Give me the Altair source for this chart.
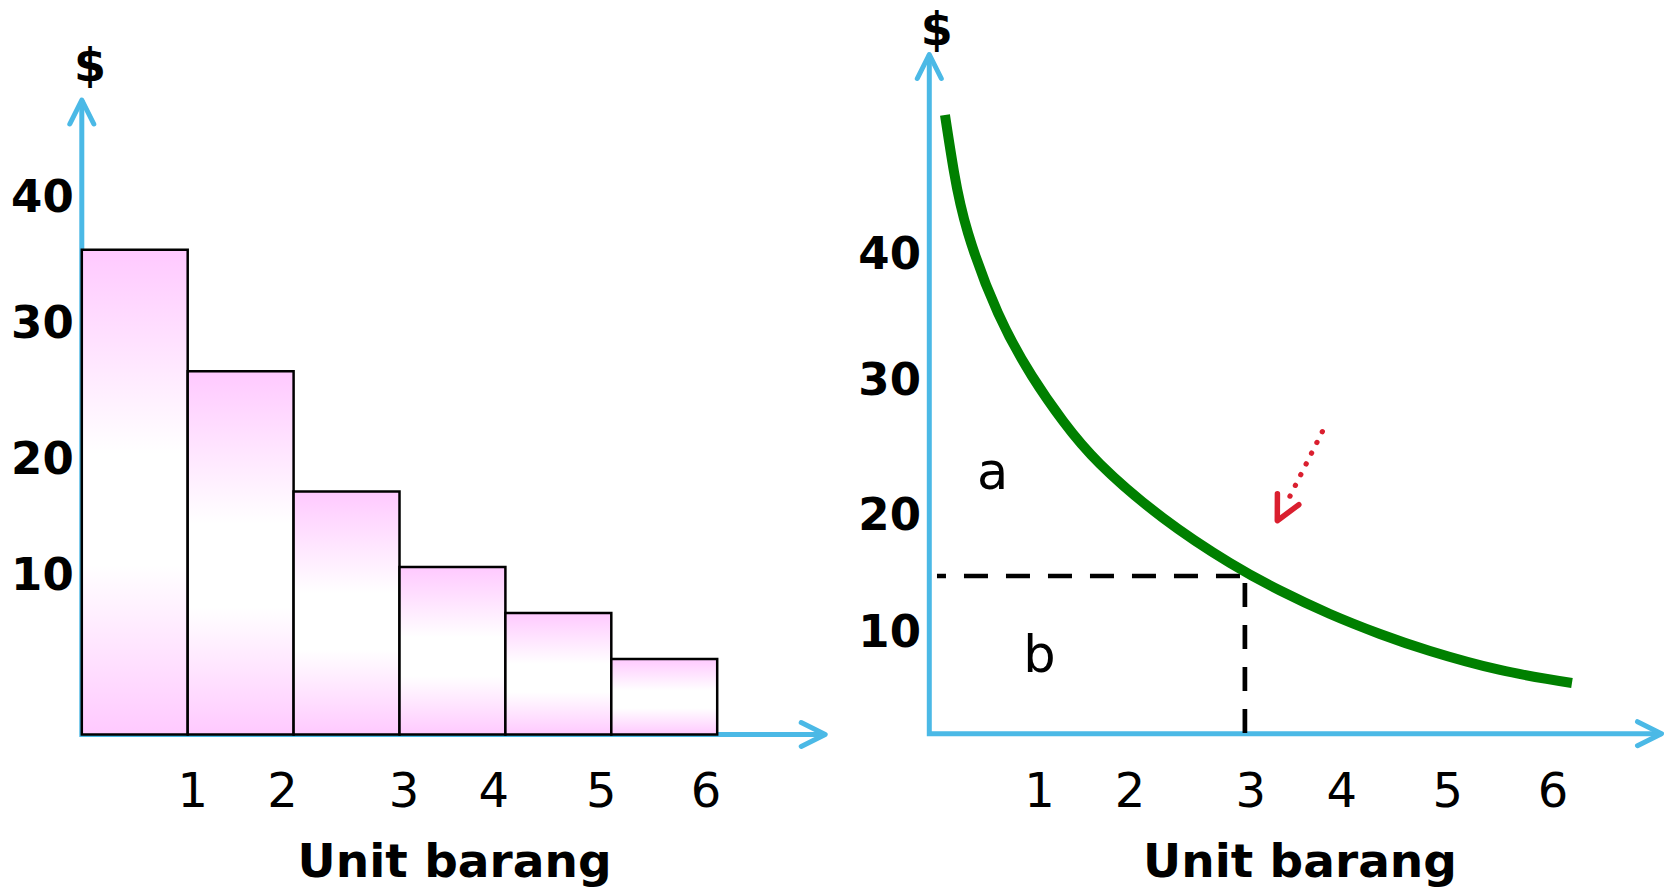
import altair as alt
import pandas as pd

# ------------------------------------------------------------------ data
units = [1, 2, 3, 4, 5, 6]
tick_labels = ["1", "2", "3", "4", "5", "6"]
left_values = [35.9, 26.9, 18.0, 12.4, 9.0, 5.6]          # $ per unit (bars)
left_tick_pos = [1.047, 1.896, 3.043, 3.890, 4.906, 5.894]
right_tick_pos = [1.047, 1.908, 3.055, 3.920, 4.929, 5.929]
y_labels = ["10", "20", "30", "40"]
left_ylabel_pos = [10.7, 19.3, 29.4, 38.67]
right_ylabel_pos = [7.25, 16.98, 28.2, 38.7]

curve_x = [0.149, 0.235, 0.368, 0.653, 0.976, 1.271, 1.623, 2.222,
           2.859, 3.334, 3.809, 4.284, 4.760, 5.425, 6.109]
curve_y = [51.56, 46.81, 41.73, 35.06, 29.81, 26.06, 22.48, 17.98,
           14.23, 11.93, 9.975, 8.31, 6.89, 5.31, 4.225]

left_axis_end = [7.02, 47.0]     # x end, y end
right_axis_end = [6.96, 56.6]
price_level = 13.14
quantity_level = 3
dash_start_x = 0.073
pointer_x = [3.736, 3.378]
pointer_y = [25.17, 18.91]
pointer_tip = [3.308, 17.75]
area_labels = ["a", "b"]
area_x = [0.603, 1.048]
area_y = [20.39, 5.14]
title_x = "Unit barang"
title_y = "$"
left_title_pos = [3.52, -10.53]
right_title_pos = [3.524, -11.92]
left_dollar_pos = [0.077, 48.42]
right_dollar_pos = [0.070, 57.40]
left_tick_y = -5.35
right_tick_y = -6.08
left_ylabel_x = -0.0765
right_ylabel_x = -0.079

# ------------------------------------------------------------------ style
W, H = 1656, 880
BLUE = "#4BB9E6"
GREEN = "#008000"
RED = "#DA1F2F"
PINK = "#FFC9FF"
FONT = "DejaVu Sans"
CHEVRON = "M-0.5,1L0,0L0.5,1"

LX = alt.Scale(domain=[0, 7], range=[73.8, 815.1], nice=False, zero=False)
LY = alt.Scale(domain=[0, 50], range=[726.5, 51.5], nice=False, zero=False)
RX = alt.Scale(domain=[0, 7], range=[921.3, 1657.7], nice=False, zero=False)
RY = alt.Scale(domain=[0, 50], range=[725.7, 125.7], nice=False, zero=False)


def X(field, sc):
    return alt.X(field, type="quantitative", scale=sc, axis=None, title=None)


def Y(field, sc):
    return alt.Y(field, type="quantitative", scale=sc, axis=None, title=None)


def panel_axes(end, sx, sy):
    df = pd.DataFrame({"x": [0, 0, end[0]], "y": [end[1], 0, 0], "i": [0, 1, 2]})
    shafts = alt.Chart(df).mark_line(
        color=BLUE, strokeWidth=5, strokeCap="butt", strokeJoin="miter"
    ).encode(x=X("x", sx), y=Y("y", sy), order=alt.Order("i:Q"))
    tips = pd.DataFrame({"x": [end[0], 0], "y": [0, end[1]], "angle": [90, 0]})
    heads = alt.Chart(tips).mark_point(
        shape=CHEVRON, size=2304, filled=False, stroke=BLUE, strokeWidth=5,
        strokeCap="round", strokeJoin="round", opacity=1
    ).encode(x=X("x", sx), y=Y("y", sy), angle=alt.Angle("angle:Q", scale=None))
    return [shafts, heads]


def panel_texts(sx, sy, tick_pos, tick_y, ylab_pos, ylab_x, title_pos, dollar_pos):
    ticks = alt.Chart(pd.DataFrame({"x": tick_pos, "y": [tick_y] * 6, "t": tick_labels})).mark_text(
        font=FONT, fontSize=48, align="center", baseline="alphabetic", color="black"
    ).encode(x=X("x", sx), y=Y("y", sy), text="t:N")
    ylabs = alt.Chart(pd.DataFrame({"x": [ylab_x] * 4, "y": ylab_pos, "t": y_labels})).mark_text(
        font=FONT, fontSize=45, fontWeight="bold", align="right", baseline="alphabetic", color="black"
    ).encode(x=X("x", sx), y=Y("y", sy), text="t:N")
    titles = alt.Chart(pd.DataFrame({
        "x": [title_pos[0], dollar_pos[0]], "y": [title_pos[1], dollar_pos[1]],
        "t": [title_x, title_y], "s": [47, 46]})).mark_text(
        font=FONT, fontWeight="bold", align="center", baseline="alphabetic", color="black"
    ).encode(x=X("x", sx), y=Y("y", sy), text="t:N", size=alt.Size("s:Q", scale=None))
    return [ticks, ylabs, titles]


# ------------------------------------------------------------------ left panel
grad = alt.Gradient(
    gradient="linear",
    stops=[alt.GradientStop(color=PINK, offset=0),
           alt.GradientStop(color="#FFFFFF", offset=0.42),
           alt.GradientStop(color="#FFFFFF", offset=0.65),
           alt.GradientStop(color=PINK, offset=1)],
    x1=0, x2=0, y1=0, y2=1,
)
bars = alt.Chart(pd.DataFrame({"unit": units, "value": left_values})).transform_calculate(
    x0="datum.unit - 1"
).mark_rect(fill=grad, stroke="black", strokeWidth=2.5).encode(
    x=X("x0", LX), x2="unit:Q", y=Y("value", LY), y2=alt.datum(0)
)

left = alt.layer(
    *panel_axes(left_axis_end, LX, LY),
    bars,
    *panel_texts(LX, LY, left_tick_pos, left_tick_y, left_ylabel_pos, left_ylabel_x,
                 left_title_pos, left_dollar_pos),
)

# ------------------------------------------------------------------ right panel
curve = alt.Chart(pd.DataFrame({"x": curve_x, "y": curve_y})).mark_line(
    color=GREEN, strokeWidth=10, interpolate="natural", strokeCap="butt"
).encode(x=X("x", RX), y=Y("y", RY))

hdash = alt.Chart(pd.DataFrame({"x": [dash_start_x], "x2": [quantity_level], "y": [price_level]})).mark_rule(
    color="black", strokeWidth=4.7, strokeDash=[24, 18], strokeDashOffset=15, strokeCap="butt"
).encode(x=X("x", RX), x2="x2:Q", y=Y("y", RY))

vdash = alt.Chart(pd.DataFrame({"x": [quantity_level], "y": [price_level], "y2": [0]})).mark_rule(
    color="black", strokeWidth=4.7, strokeDash=[24, 18], strokeDashOffset=35, strokeCap="butt"
).encode(x=X("x", RX), y=Y("y", RY), y2="y2:Q")

pointer = alt.Chart(pd.DataFrame({"x": [pointer_x[0]], "x2": [pointer_x[1]],
                                  "y": [pointer_y[0]], "y2": [pointer_y[1]]})).mark_rule(
    color=RED, strokeWidth=5.3, strokeDash=[0.01, 12], strokeCap="round"
).encode(x=X("x", RX), x2="x2:Q", y=Y("y", RY), y2="y2:Q")

pointer_head = alt.Chart(pd.DataFrame({"x": [pointer_tip[0]], "y": [pointer_tip[1]], "angle": [206.8]})).mark_point(
    shape=CHEVRON, size=2304, filled=False, stroke=RED, strokeWidth=5.5,
    strokeCap="round", strokeJoin="round", opacity=1
).encode(x=X("x", RX), y=Y("y", RY), angle=alt.Angle("angle:Q", scale=None))

letters = alt.Chart(pd.DataFrame({"x": area_x, "y": area_y, "t": area_labels})).mark_text(
    font=FONT, fontSize=51, align="center", baseline="alphabetic", color="black"
).encode(x=X("x", RX), y=Y("y", RY), text="t:N")

right = alt.layer(
    *panel_axes(right_axis_end, RX, RY),
    hdash, vdash, curve, pointer, pointer_head, letters,
    *panel_texts(RX, RY, right_tick_pos, right_tick_y, right_ylabel_pos, right_ylabel_x,
                 right_title_pos, right_dollar_pos),
)

chart = alt.layer(left, right).resolve_scale(
    x="independent", y="independent"
).properties(
    width=W, height=H, autosize=alt.AutoSizeParams(type="none"), padding=0
).configure_view(stroke=None)

chart.save("out.html", embed_options={"renderer": "svg", "actions": False})
